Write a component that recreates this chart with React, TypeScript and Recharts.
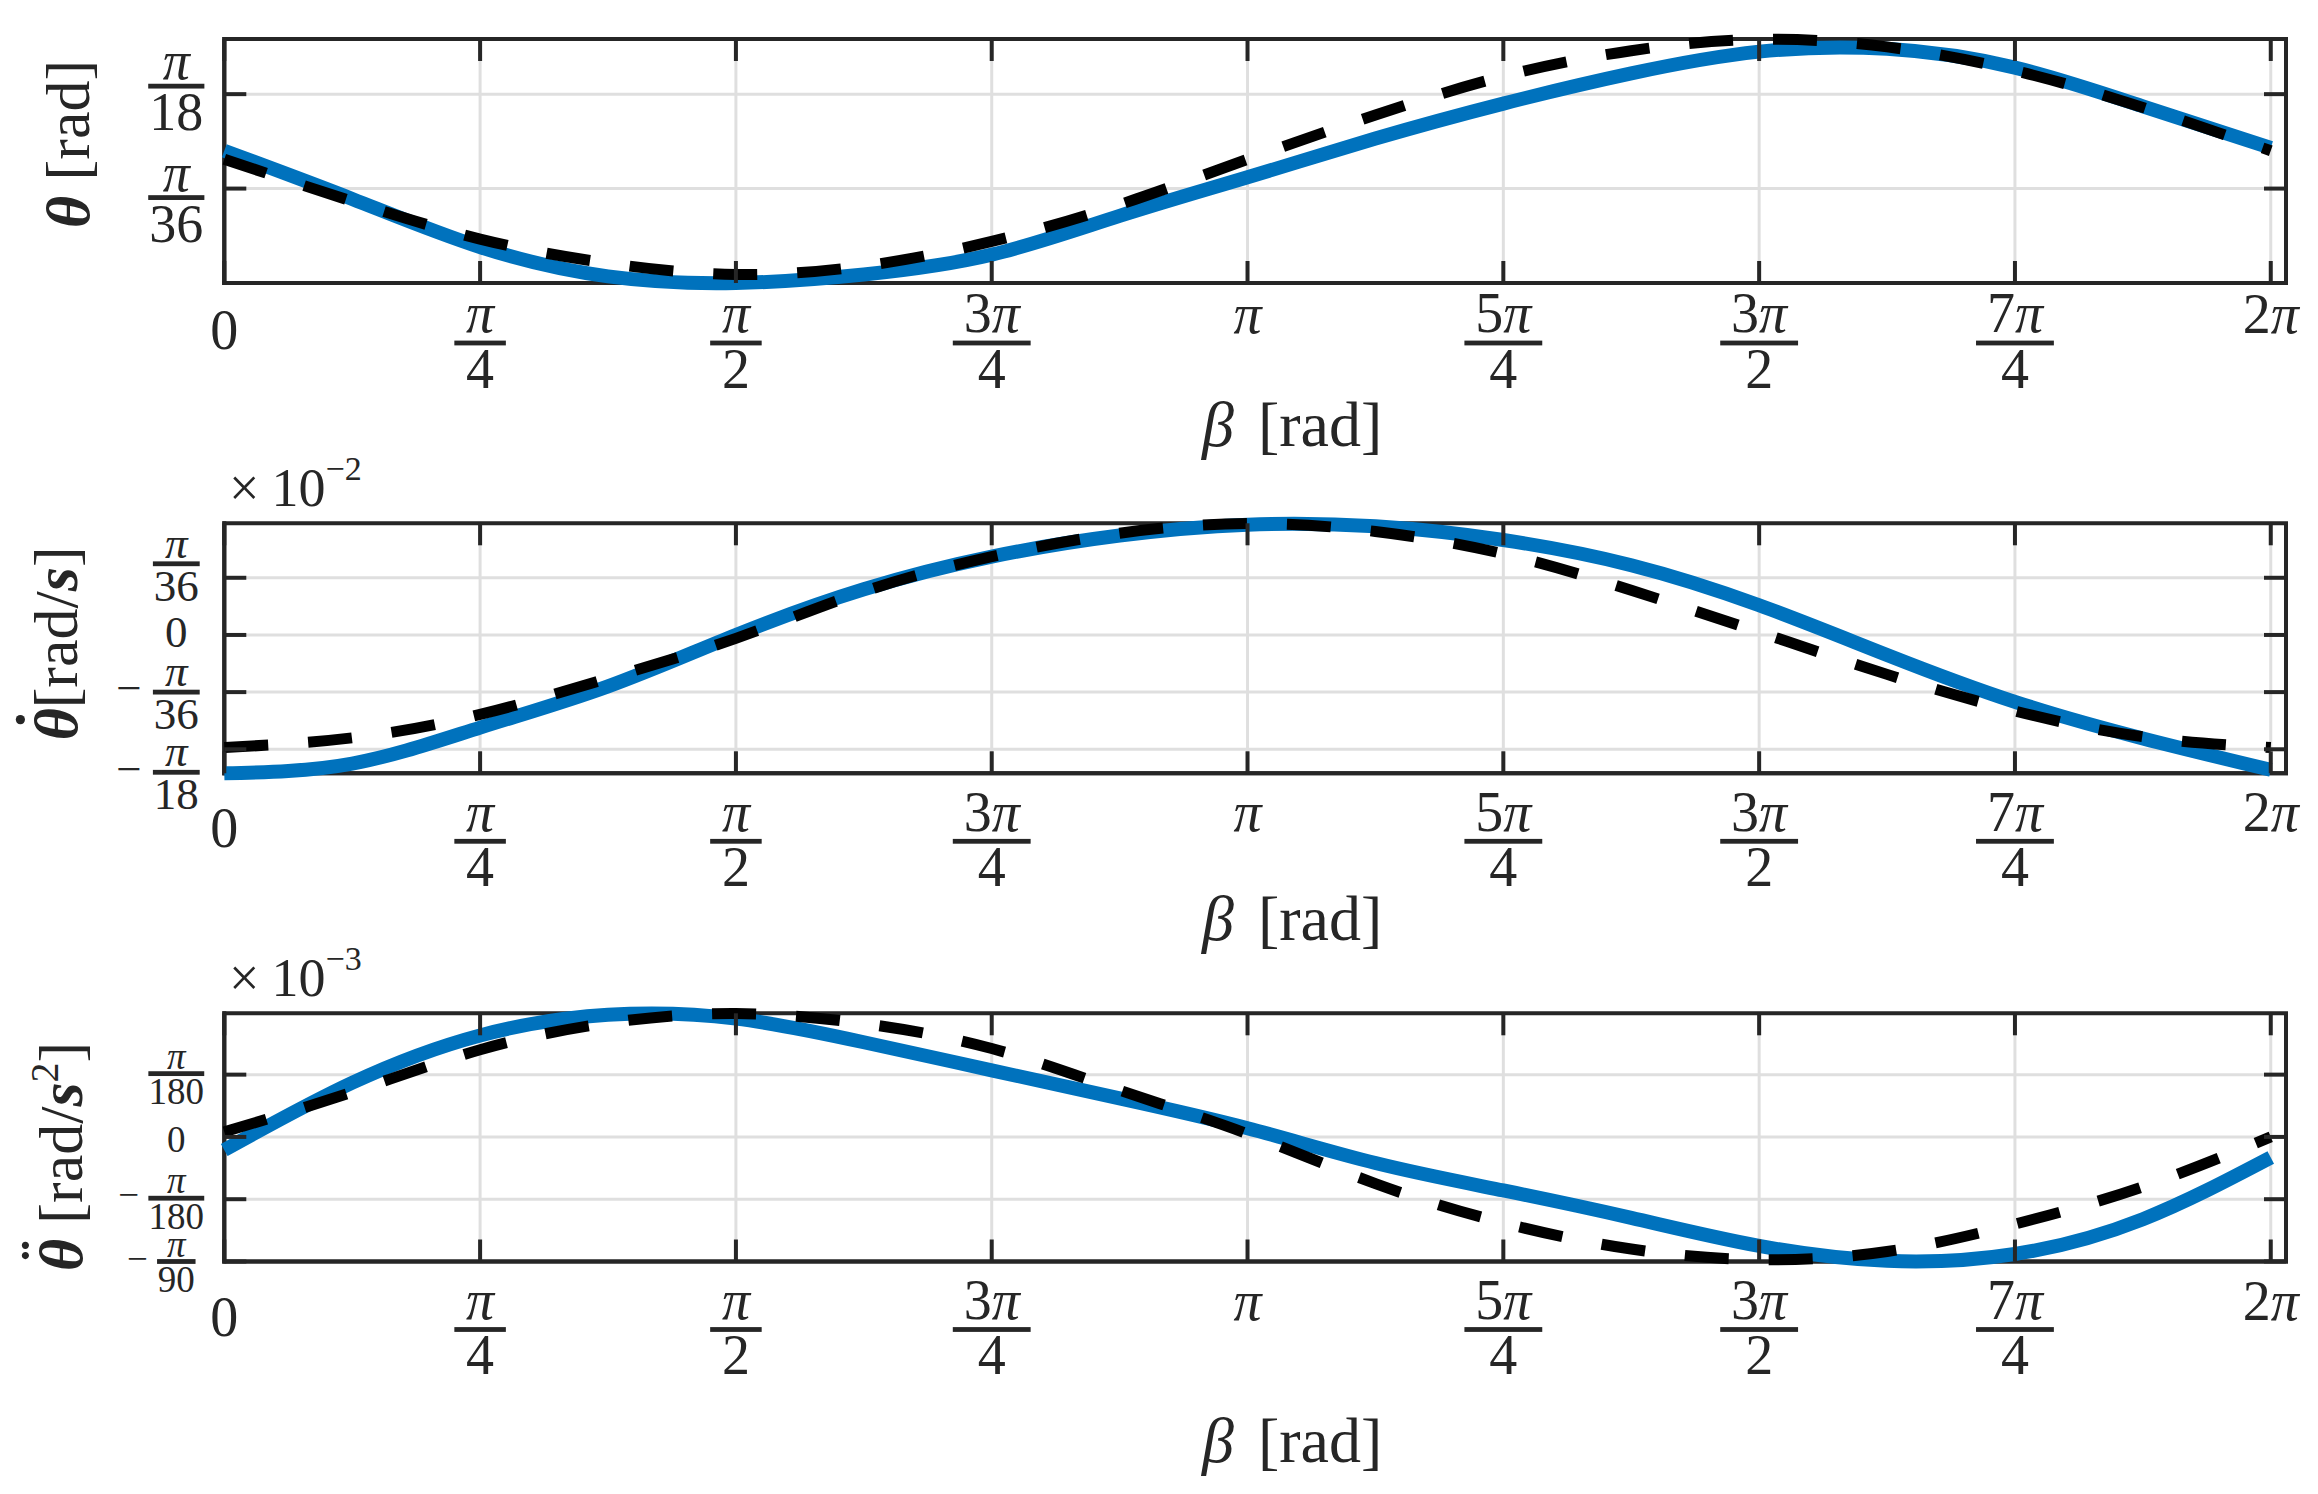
import React from 'react';
import { LineChart, Line, XAxis, YAxis, CartesianGrid, ReferenceArea } from 'recharts';

const FONT = '"Liberation Serif", "Times New Roman", serif';
const INK = '#262626';
const GRID = '#dfdfdf';
const BLUE = '#0072BD';
const BLACK = '#000000';

const PAGE_W = 2318;
const PAGE_H = 1494;
const PLOT_LEFT = 224.3;
const PLOT_RIGHT = 2286;
const AX_H = 220;
const TICK_LEN = 22;
const X_MAX = 6.33;

// beta sample points (rad): 0, pi/8, ..., 2pi
const BETA = [0, 0.3927, 0.7854, 1.1781, 1.5708, 1.9635, 2.3562, 2.7489, 3.1416, 3.5343, 3.927, 4.3197, 4.7124, 5.1051, 5.4978, 5.8905, 6.2832];

// theta [rad]
const THETA_SIM = [0.1222, 0.0777, 0.0332, 0.0061, 0.0, 0.0079, 0.0262, 0.062, 0.0977, 0.1335, 0.1658, 0.1937, 0.2138, 0.2164, 0.199, 0.1632, 0.1248];
const THETA_REF = [0.1143, 0.0755, 0.0406, 0.0183, 0.0079, 0.0157, 0.0384, 0.0724, 0.1143, 0.1553, 0.1911, 0.2147, 0.2251, 0.2182, 0.1963, 0.1623, 0.1222];

// theta dot [x1e-2 rad/s]
const DTHETA_SIM = [-0.2112, -0.1963, -0.1414, -0.0785, 0.0, 0.0698, 0.1196, 0.1518, 0.1684, 0.1658, 0.1449, 0.1065, 0.0454, -0.0305, -0.1021, -0.158, -0.2059];
const DTHETA_REF = [-0.1719, -0.1571, -0.1213, -0.0663, -0.0052, 0.0663, 0.1196, 0.1553, 0.1702, 0.158, 0.1239, 0.0681, 0.0044, -0.0602, -0.1161, -0.1553, -0.1719];

// theta double dot [x1e-3 rad/s^2]
const DDTHETA_SIM = [-0.00367, 0.01518, 0.02845, 0.03421, 0.03316, 0.02653, 0.01867, 0.01082, 0.00244, -0.00733, -0.01501, -0.02269, -0.03054, -0.03473, -0.03281, -0.02304, -0.00576];
const DDTHETA_REF = [0.0014, 0.01257, 0.02443, 0.03194, 0.03456, 0.03176, 0.02478, 0.01309, 0.00087, -0.01309, -0.02409, -0.03142, -0.03438, -0.03211, -0.02443, -0.01396, 0.0];

type Lab = { n: string; d?: string; neg?: boolean };

const X_TICKS = [0, 0.7854, 1.5708, 2.3562, 3.1416, 3.927, 4.7124, 5.4978, 6.2832];
const X_TICK_LABELS: Lab[] = [
  { n: '0' }, { n: 'π', d: '4' }, { n: 'π', d: '2' }, { n: '3π', d: '4' }, { n: 'π' },
  { n: '5π', d: '4' }, { n: '3π', d: '2' }, { n: '7π', d: '4' }, { n: '2π' },
];

const THETA_TICKS = [0.087266, 0.174533];
const THETA_TICK_LABELS: Lab[] = [{ n: 'π', d: '36' }, { n: 'π', d: '18' }];
const DTHETA_TICKS = [-0.174533, -0.087266, 0, 0.087266];
const DTHETA_TICK_LABELS: Lab[] = [{ n: 'π', d: '18', neg: true }, { n: 'π', d: '36', neg: true }, { n: '0' }, { n: 'π', d: '36' }];
const DDTHETA_TICKS = [-0.034907, -0.017453, 0, 0.017453];
const DDTHETA_TICK_LABELS: Lab[] = [{ n: 'π', d: '90', neg: true }, { n: 'π', d: '180', neg: true }, { n: '0' }, { n: 'π', d: '180' }];

type PanelCfg = {
  key: string;
  top: number;
  bottom: number;
  yDomain: [number, number];
  yTicks: number[];
  yLabels: Lab[];
  yNudge: number[];
  tickFs: number;
  sim: number[];
  ref: number[];
  xBarDy: number;
  xTitleDy: number;
  yTitle: 'theta' | 'dtheta' | 'ddtheta';
  yTitleX: number;
  yTitleDy: number;
  exponent: string | null;
};

const PANELS: PanelCfg[] = [
  {
    key: 'theta', top: 39, bottom: 283, yDomain: [0, 0.2255], yTicks: THETA_TICKS, yLabels: THETA_TICK_LABELS,
    yNudge: [9, -8], tickFs: 54, sim: THETA_SIM, ref: THETA_REF, xBarDy: 60, xTitleDy: 163,
    yTitle: 'theta', yTitleX: 89, yTitleDy: -17, exponent: null,
  },
  {
    key: 'dtheta', top: 523.3, bottom: 773.3, yDomain: [-0.2112, 0.17043], yTicks: DTHETA_TICKS, yLabels: DTHETA_TICK_LABELS,
    yNudge: [23, 0, -3, -14], tickFs: 45, sim: DTHETA_SIM, ref: DTHETA_REF, xBarDy: 68, xTitleDy: 167,
    yTitle: 'dtheta', yTitleX: 77, yTitleDy: -5, exponent: '−2',
  },
  {
    key: 'ddtheta', top: 1013.3, bottom: 1261.5, yDomain: [-0.03491, 0.03464], yTicks: DDTHETA_TICKS, yLabels: DDTHETA_TICK_LABELS,
    yNudge: [0, -1, 3, -1], tickFs: 37, sim: DDTHETA_SIM, ref: DDTHETA_REF, xBarDy: 68, xTitleDy: 200,
    yTitle: 'ddtheta', yTitleX: 82, yTitleDy: 19, exponent: '−3',
  },
];

function MathSpans({ s }: { s: string }) {
  return (
    <>
      {s.split('').map((ch, i) =>
        ch === 'π' ? <tspan key={i} fontStyle="italic">π</tspan> : <tspan key={i}>{ch}</tspan>
      )}
    </>
  );
}

function XTick(props: any) {
  const { x, y, payload, barDy, plotH } = props;
  const idx = X_TICKS.findIndex((t) => Math.abs(t - payload.value) < 1e-6);
  const lab = X_TICK_LABELS[idx] || { n: '' };
  const fs = 56;
  const B = y + barDy;
  const common = { fontFamily: FONT, fontSize: fs, fill: INK, textAnchor: 'middle' as const };
  let label: React.ReactNode;
  if (lab.d) {
    const w = Math.max(lab.n.length, lab.d.length) * 0.47 * fs + 0.45 * fs;
    label = (
      <>
        <text x={x} y={B - 0.19 * fs} {...common}><MathSpans s={lab.n} /></text>
        <rect x={x - w / 2} y={B - 2.4} width={w} height={4.8} fill={INK} />
        <text x={x} y={B + 0.8 * fs} {...common}>{lab.d}</text>
      </>
    );
  } else {
    label = (
      <text x={x} y={lab.n === '0' ? B + 6 : B - 10} {...common}><MathSpans s={lab.n} /></text>
    );
  }
  return (
    <g>
      <line x1={x} x2={x} y1={y} y2={y - TICK_LEN} stroke={INK} strokeWidth={4} />
      <line x1={x} x2={x} y1={y - plotH} y2={y - plotH + TICK_LEN} stroke={INK} strokeWidth={4} />
      {label}
    </g>
  );
}

function YTick(props: any) {
  const { x, y, payload, cfg } = props;
  const p: PanelCfg = cfg;
  const plotW = PLOT_RIGHT - PLOT_LEFT;
  const idx = p.yTicks.findIndex((t) => Math.abs(t - payload.value) < 1e-9);
  const lab = p.yLabels[idx] || { n: '' };
  const fs = p.tickFs;
  const B = y + (p.yNudge[idx] || 0);
  const cx = x - 48;
  const common = { fontFamily: FONT, fontSize: fs, fill: INK, textAnchor: 'middle' as const };
  let label: React.ReactNode;
  if (lab.d) {
    const w = Math.max(lab.n.length, lab.d.length) * 0.47 * fs + 0.1 * fs;
    label = (
      <>
        <text x={cx} y={B - 0.13 * fs} {...common}><MathSpans s={lab.n} /></text>
        <rect x={cx - w / 2} y={B - 2.4} width={w} height={4.8} fill={INK} />
        <text x={cx} y={B + 0.82 * fs} {...common}>{lab.d}</text>
        {lab.neg ? (
          <text x={cx - w / 2 - 0.25 * fs} y={B + 0.25 * fs} fontFamily={FONT} fontSize={fs} fill={INK} textAnchor="end">−</text>
        ) : null}
      </>
    );
  } else {
    label = <text x={cx} y={B + 0.34 * fs} {...common}>{lab.n}</text>;
  }
  return (
    <g>
      <line x1={x} x2={x + TICK_LEN} y1={y} y2={y} stroke={INK} strokeWidth={4} />
      <line x1={x + plotW} x2={x + plotW - TICK_LEN} y1={y} y2={y} stroke={INK} strokeWidth={4} />
      {label}
    </g>
  );
}

function XTitle(props: any) {
  const vb = props.viewBox || { x: 0, y: 0, width: 0 };
  const dy = props.titleDy;
  return (
    <text x={vb.x + vb.width / 2 + 37} y={vb.y + dy} fontFamily={FONT} fontSize={64} fill={INK} textAnchor="middle">
      <tspan fontStyle="italic">β</tspan>
      <tspan dx={24}>[rad]</tspan>
    </text>
  );
}

function YTitle(props: any) {
  const vb = props.viewBox || { x: 0, y: 0, width: 0, height: 0 };
  const p: PanelCfg = props.cfg;
  const cy = vb.y + vb.height / 2 + p.yTitleDy;
  let body: React.ReactNode;
  if (p.yTitle === 'theta') {
    body = (
      <>
        <tspan fontWeight="bold" fontStyle="italic">θ</tspan>
        <tspan> [rad]</tspan>
      </>
    );
  } else if (p.yTitle === 'dtheta') {
    body = (
      <>
        <tspan fontWeight="bold" fontStyle="italic">θ</tspan>
        <tspan fontWeight="bold" dx={-22} dy={-19}>˙</tspan>
        <tspan dx={1} dy={19}>[rad/</tspan>
        <tspan fontWeight="bold" fontStyle="italic">s</tspan>
        <tspan>]</tspan>
      </>
    );
  } else {
    body = (
      <>
        <tspan fontWeight="bold" fontStyle="italic">θ</tspan>
        <tspan fontWeight="bold" dx={-22} dy={-19}>¨</tspan>
        <tspan dx={1} dy={19}> [rad/</tspan>
        <tspan fontWeight="bold" fontStyle="italic">s</tspan>
        <tspan fontSize={40} dy={-24}>2</tspan>
        <tspan dy={24}>]</tspan>
      </>
    );
  }
  return (
    <g>
      <text
        transform={`translate(${p.yTitleX},${cy}) rotate(-90)`}
        x={0}
        y={0}
        fontFamily={FONT}
        fontSize={62}
        fill={INK}
        textAnchor="middle"
      >
        {body}
      </text>
      {p.exponent ? (
        <text x={229} y={vb.y - 17} fontFamily={FONT} fontSize={54} fill={INK}>
          ×<tspan dx={12}>10</tspan>
          <tspan fontSize={34} dy={-26}>{p.exponent}</tspan>
        </text>
      ) : null}
    </g>
  );
}

function Panel({ p }: { p: PanelCfg }) {
  const rows = BETA.map((b, i) => ({ beta: b, sim: p.sim[i], ref: p.ref[i] }));
  const axisLine = { stroke: INK, strokeWidth: 4, strokeLinecap: 'square' as const };
  const plotH = p.bottom - p.top;
  return (
    <div style={{ position: 'absolute', left: 0, top: 0, width: PAGE_W, height: PAGE_H }}>
      <LineChart
        width={PAGE_W}
        height={PAGE_H}
        data={rows}
        margin={{ top: p.top, right: PAGE_W - PLOT_RIGHT, bottom: PAGE_H - p.bottom - AX_H, left: 0 }}
      >
        <CartesianGrid stroke={GRID} strokeWidth={3} />
        <XAxis
          dataKey="beta"
          type="number"
          domain={[0, X_MAX]}
          ticks={X_TICKS}
          interval={0}
          height={AX_H}
          tickSize={0}
          tickMargin={0}
          tickLine={false}
          axisLine={axisLine}
          tick={(tp: any) => <XTick {...tp} barDy={p.xBarDy} plotH={plotH} />}
          label={(lp: any) => <XTitle {...lp} titleDy={p.xTitleDy} />}
        />
        <YAxis
          type="number"
          domain={p.yDomain}
          ticks={p.yTicks}
          interval={0}
          width={PLOT_LEFT}
          tickSize={0}
          tickMargin={0}
          tickLine={false}
          axisLine={axisLine}
          tick={(tp: any) => <YTick {...tp} cfg={p} />}
          label={(lp: any) => <YTitle {...lp} cfg={p} />}
        />
        <ReferenceArea
          x1={0}
          x2={X_MAX}
          y1={p.yDomain[0]}
          y2={p.yDomain[1]}
          ifOverflow="visible"
          fill="none"
          fillOpacity={0}
          stroke={INK}
          strokeWidth={4}
          strokeOpacity={1}
        />
        <Line
          dataKey="sim"
          type="natural"
          stroke={BLUE}
          strokeWidth={14}
          dot={false}
          activeDot={false}
          isAnimationActive={false}
          {...({ zIndex: 550 } as any)}
        />
        <Line
          dataKey="ref"
          type="natural"
          stroke={BLACK}
          strokeWidth={11}
          strokeDasharray="44 40"
          dot={false}
          activeDot={false}
          isAnimationActive={false}
          {...({ zIndex: 560 } as any)}
        />
      </LineChart>
    </div>
  );
}

export default function App() {
  return (
    <div style={{ position: 'absolute', left: 0, top: 0, width: PAGE_W, height: PAGE_H, background: '#ffffff', overflow: 'hidden' }}>
      {PANELS.map((p) => (
        <Panel key={p.key} p={p} />
      ))}
    </div>
  );
}
